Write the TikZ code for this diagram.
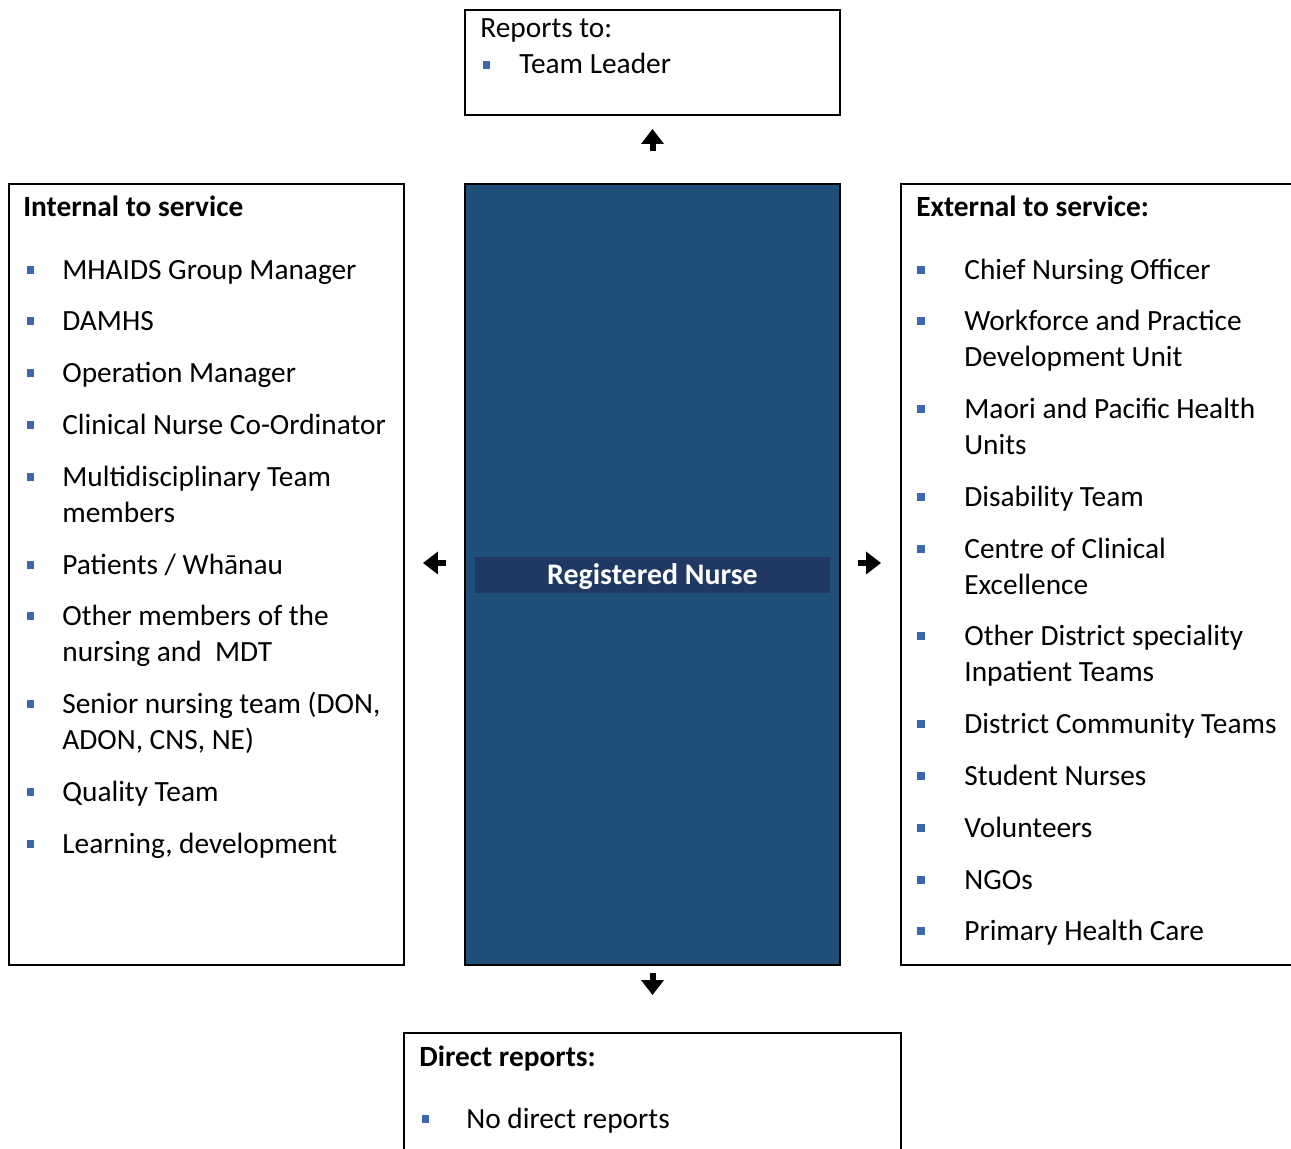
\documentclass[tikz,border=0pt]{standalone}
\usepackage{fontspec}
\setmainfont{Carlito}
\usepackage{xcolor}
\usetikzlibrary{arrows.meta, calc}
\definecolor{nurseblue}{HTML}{1F4E79}
\definecolor{barblue}{HTML}{203864}
\definecolor{bulletblue}{HTML}{3A67AE}
\newcommand{\itemlines}[1]{\begin{tabular}[t]{@{}l@{}}#1\end{tabular}}

\begin{document}
\begin{tikzpicture}[x=0.02cm, y=-0.02cm,
  box/.style={shape=rectangle, draw, line width=0.04cm, inner sep=0pt},
  arr/.style={-{Triangle[length=0.3cm,width=0.44cm]}, line width=0.12cm},
  bul/.style={shape=rectangle, fill=bulletblue, minimum size=0.15cm, inner sep=0pt},
  txt/.style={anchor=base west, inner sep=0pt, font=\fontsize{16.7}{20.5}\selectfont},
  head/.style={txt, font=\fontsize{16.7}{20.5}\selectfont\bfseries}]

\useasboundingbox (0,0) rectangle (1291,1149);

% boxes
\node (top) [box, minimum width=7.5cm, minimum height=2.1cm] at (652.5,62.5) {};
\node (rn) [box, fill=nurseblue, minimum width=7.5cm, minimum height=15.62cm] at (652.5,574.5) {};
\node (int) [box, minimum width=7.9cm, minimum height=15.62cm] at (206.5,574.5) {};
\node (ext) [box, minimum width=8.18cm, minimum height=15.62cm] at (1105.5,574.5) {};
\node (dir) [box, minimum width=9.94cm, minimum height=2.74cm] at (652.5,1101.5) {};

\node (rnlabel) [fill=barblue, text=white, minimum width=7.1cm, minimum height=0.72cm, inner sep=0pt,
  text depth=0pt, font=\fontsize{17}{20.5}\selectfont\bfseries] at (rn.center) {Registered Nurse};

% arrows
\coordinate (rnw) at ([yshift=0.23cm]rn.west);
\coordinate (rne) at ([yshift=0.23cm]rn.east);
\draw[arr, shorten <=0.64cm, shorten >=0.26cm] (rn.north) -- (top.south);
\draw[arr, shorten <=0.14cm, shorten >=0.74cm] (rn.south) -- (dir.north);
\draw[arr, shorten <=0.36cm, shorten >=0.36cm] (rnw) -- (int.east |- rnw);
\draw[arr, shorten <=0.34cm, shorten >=0.38cm] (rne) -- (ext.west |- rne);

% top and bottom
\node (toph) [txt] at (480,38) {Reports to:};
\node (topb) [bul] at (486.5,65) {};
\node (topt) [txt] at (519,74) {Team Leader};
\node (dirh) [head] at (419,1066) {Direct reports:};
\node (dirb) [bul] at (425.5,1119) {};
\node (dirt) [txt] at (466,1128) {No direct reports};

% internal
\node (inth) [head] at (23,216) {Internal to service};
\foreach \y/\t [count=\i] in {270/MHAIDS Group Manager, 321/DAMHS, 373/Operation Manager,
  425/Clinical Nurse Co-Ordinator, 477/{Multidisciplinary Team\\members}, 565/{Patients / Whānau},
  616/{Other members of the\\nursing and~~MDT}, 704/{Senior nursing team (DON,\\ADON, CNS, NE)},
  792/Quality Team, 844/{Learning, development}}{
  \node (ib\i) [bul] at (30.5,\y) {};
  \node (it\i) [txt] at (62,{\y+9}) {\itemlines{\t}};
}

% external
\node (exth) [head] at (916,216) {External to service:};
\foreach \y/\t [count=\i] in {270/Chief Nursing Officer, 321/{Workforce and Practice\\Development Unit},
  409/{Maori and Pacific Health\\Units}, 497/Disability Team, 549/{Centre of Clinical\\Excellence},
  636/{Other District speciality\\Inpatient Teams}, 724/District Community Teams, 776/Student Nurses,
  828/Volunteers, 880/NGOs, 931/Primary Health Care}{
  \node (eb\i) [bul] at (921,\y) {};
  \node (et\i) [txt] at (964,{\y+9}) {\itemlines{\t}};
}

\end{tikzpicture}
\end{document}
